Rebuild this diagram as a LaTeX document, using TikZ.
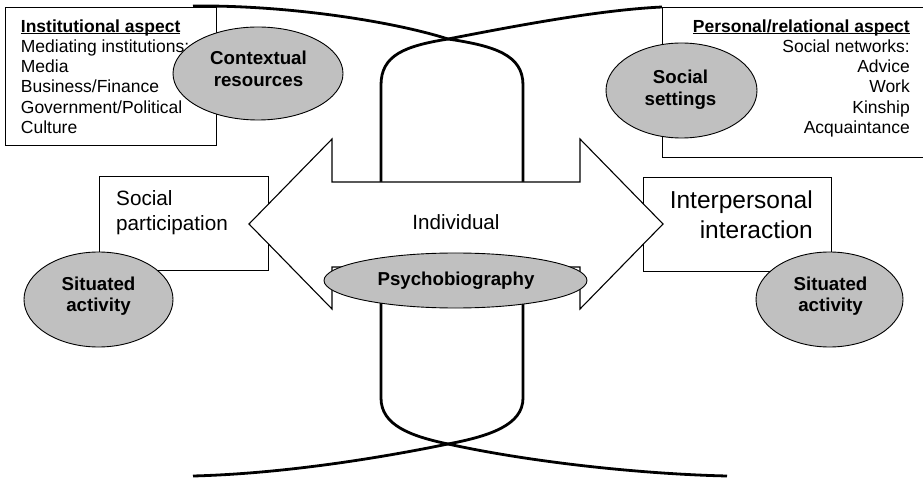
\documentclass[tikz,border=0pt]{standalone}
\usepackage{fontspec}
\setmainfont{Liberation Sans}
\usetikzlibrary{shapes.geometric}
\definecolor{blobgray}{HTML}{C0C0C0}
\newcommand\ulx[1]{\setbox0=\hbox{#1}\rlap{\rule[-2.4pt]{\wd0}{1.3pt}}\box0}
\tikzset{
  frame/.style={rectangle, draw=black, line width=1.1pt, fill=white, inner sep=0pt},
  blob/.style={ellipse, draw=black, line width=0.9pt, fill=blobgray, inner sep=0pt},
  blobtxt/.style={font=\bfseries\fontsize{18.7}{#1}\selectfont, align=center, inner sep=0pt},
  blobtxt/.default=21.7,
  boxtxt/.style={font=\fontsize{17.5}{20.3}\selectfont, inner sep=0pt},
  thickcurve/.style={draw=black, line width=2.8pt},
  bigarrow/.style={draw=black, line width=1.1pt, fill=white, line join=miter},
}
\begin{document}
\begin{tikzpicture}[x=1pt,y=-1pt]
\useasboundingbox (0,0) rectangle (923,478);
% boxes
\node[frame, anchor=north west, minimum width=211pt, minimum height=138pt] (inst) at (5,7) {};
\node[frame, anchor=north west, minimum width=268pt, minimum height=150pt] (pers) at (662,7) {};
\node[frame, anchor=north west, minimum width=169pt, minimum height=94pt] (spart) at (99,176) {};
\node[frame, anchor=north west, minimum width=188pt, minimum height=94pt] (inter) at (643,177) {};
% box texts
\node[boxtxt, align=left, anchor=north west] (instt) at (20.7,19.2)
  {\ulx{\bfseries Institutional aspect}\\Mediating institutions:\\Media\\Business/Finance\\Government/Political\\Culture};
\node[boxtxt, align=right, anchor=north east] (perst) at (910,19.2)
  {\ulx{\bfseries Personal/relational aspect}\\Social networks:\\Advice\\Work\\Kinship\\Acquaintance};
\node[font=\fontsize{20.7}{25}\selectfont, align=left, anchor=north west, inner sep=0pt] (spartt) at (116,189.9) {Social\\participation};
\node[font=\fontsize{24.5}{30}\selectfont, align=right, anchor=north east, inner sep=0pt] (intert) at (813,190.4) {Interpersonal\\interaction};
% thick curves
\coordinate (topL) at (193,6);
\coordinate (botL) at (193,476);
\coordinate (botR) at (727,476);
\draw[thickcurve] (381,182) -- (381,85) .. controls (381,55) and (405,46) .. (448,39) .. controls (520,25) and (600,10) .. (pers.north west);
\draw[thickcurve] (523,182) -- (523,85) .. controls (523,55) and (495,46) .. (448,39) .. controls (395,22) and (290,5) .. (topL);
\draw[thickcurve] (381,267) -- (381,398) .. controls (381,425) and (410,436) .. (448,444) .. controls (530,462) and (640,474) .. (botR);
\draw[thickcurve] (523,267) -- (523,398) .. controls (523,425) and (490,436) .. (448,444) .. controls (360,462) and (270,474) .. (botL);
% double arrow
\draw[bigarrow] (249,224) -- (332,139) -- (332,182) -- (580,182) -- (580,139) -- (663,224)
  -- (580,309) -- (580,267) -- (332,267) -- (332,309) -- cycle;
\node[font=\fontsize{20.6}{24}\selectfont, anchor=base, inner sep=0pt] (indiv) at (456,230) {Individual};
% ellipses
\node[blob, minimum width=170pt, minimum height=93pt] (ctx) at (258,73.5) {};
\node[blob, minimum width=151pt, minimum height=95pt] (sset) at (681.5,90.5) {};
\node[blob, minimum width=149pt, minimum height=95pt] (sitl) at (98.5,299.5) {};
\node[blob, minimum width=147pt, minimum height=95pt] (sitr) at (829.5,299.5) {};
\node[blob, minimum width=263pt, minimum height=55pt] (psy) at (455.5,280.5) {};
\node[blobtxt, anchor=north] (ctxt) at (258.5,50.7) {Contextual\\resources};
\node[blobtxt, anchor=north] (ssett) at (680.5,69.7) {Social\\settings};
\node[blobtxt, anchor=north] (sitlt) at (98.5,276.5) {Situated\\activity};
\node[blobtxt, anchor=north] (sitrt) at (830.5,276.5) {Situated\\activity};
\node[blobtxt, anchor=base] (psyt) at (456,285) {Psychobiography};
\end{tikzpicture}
\end{document}
